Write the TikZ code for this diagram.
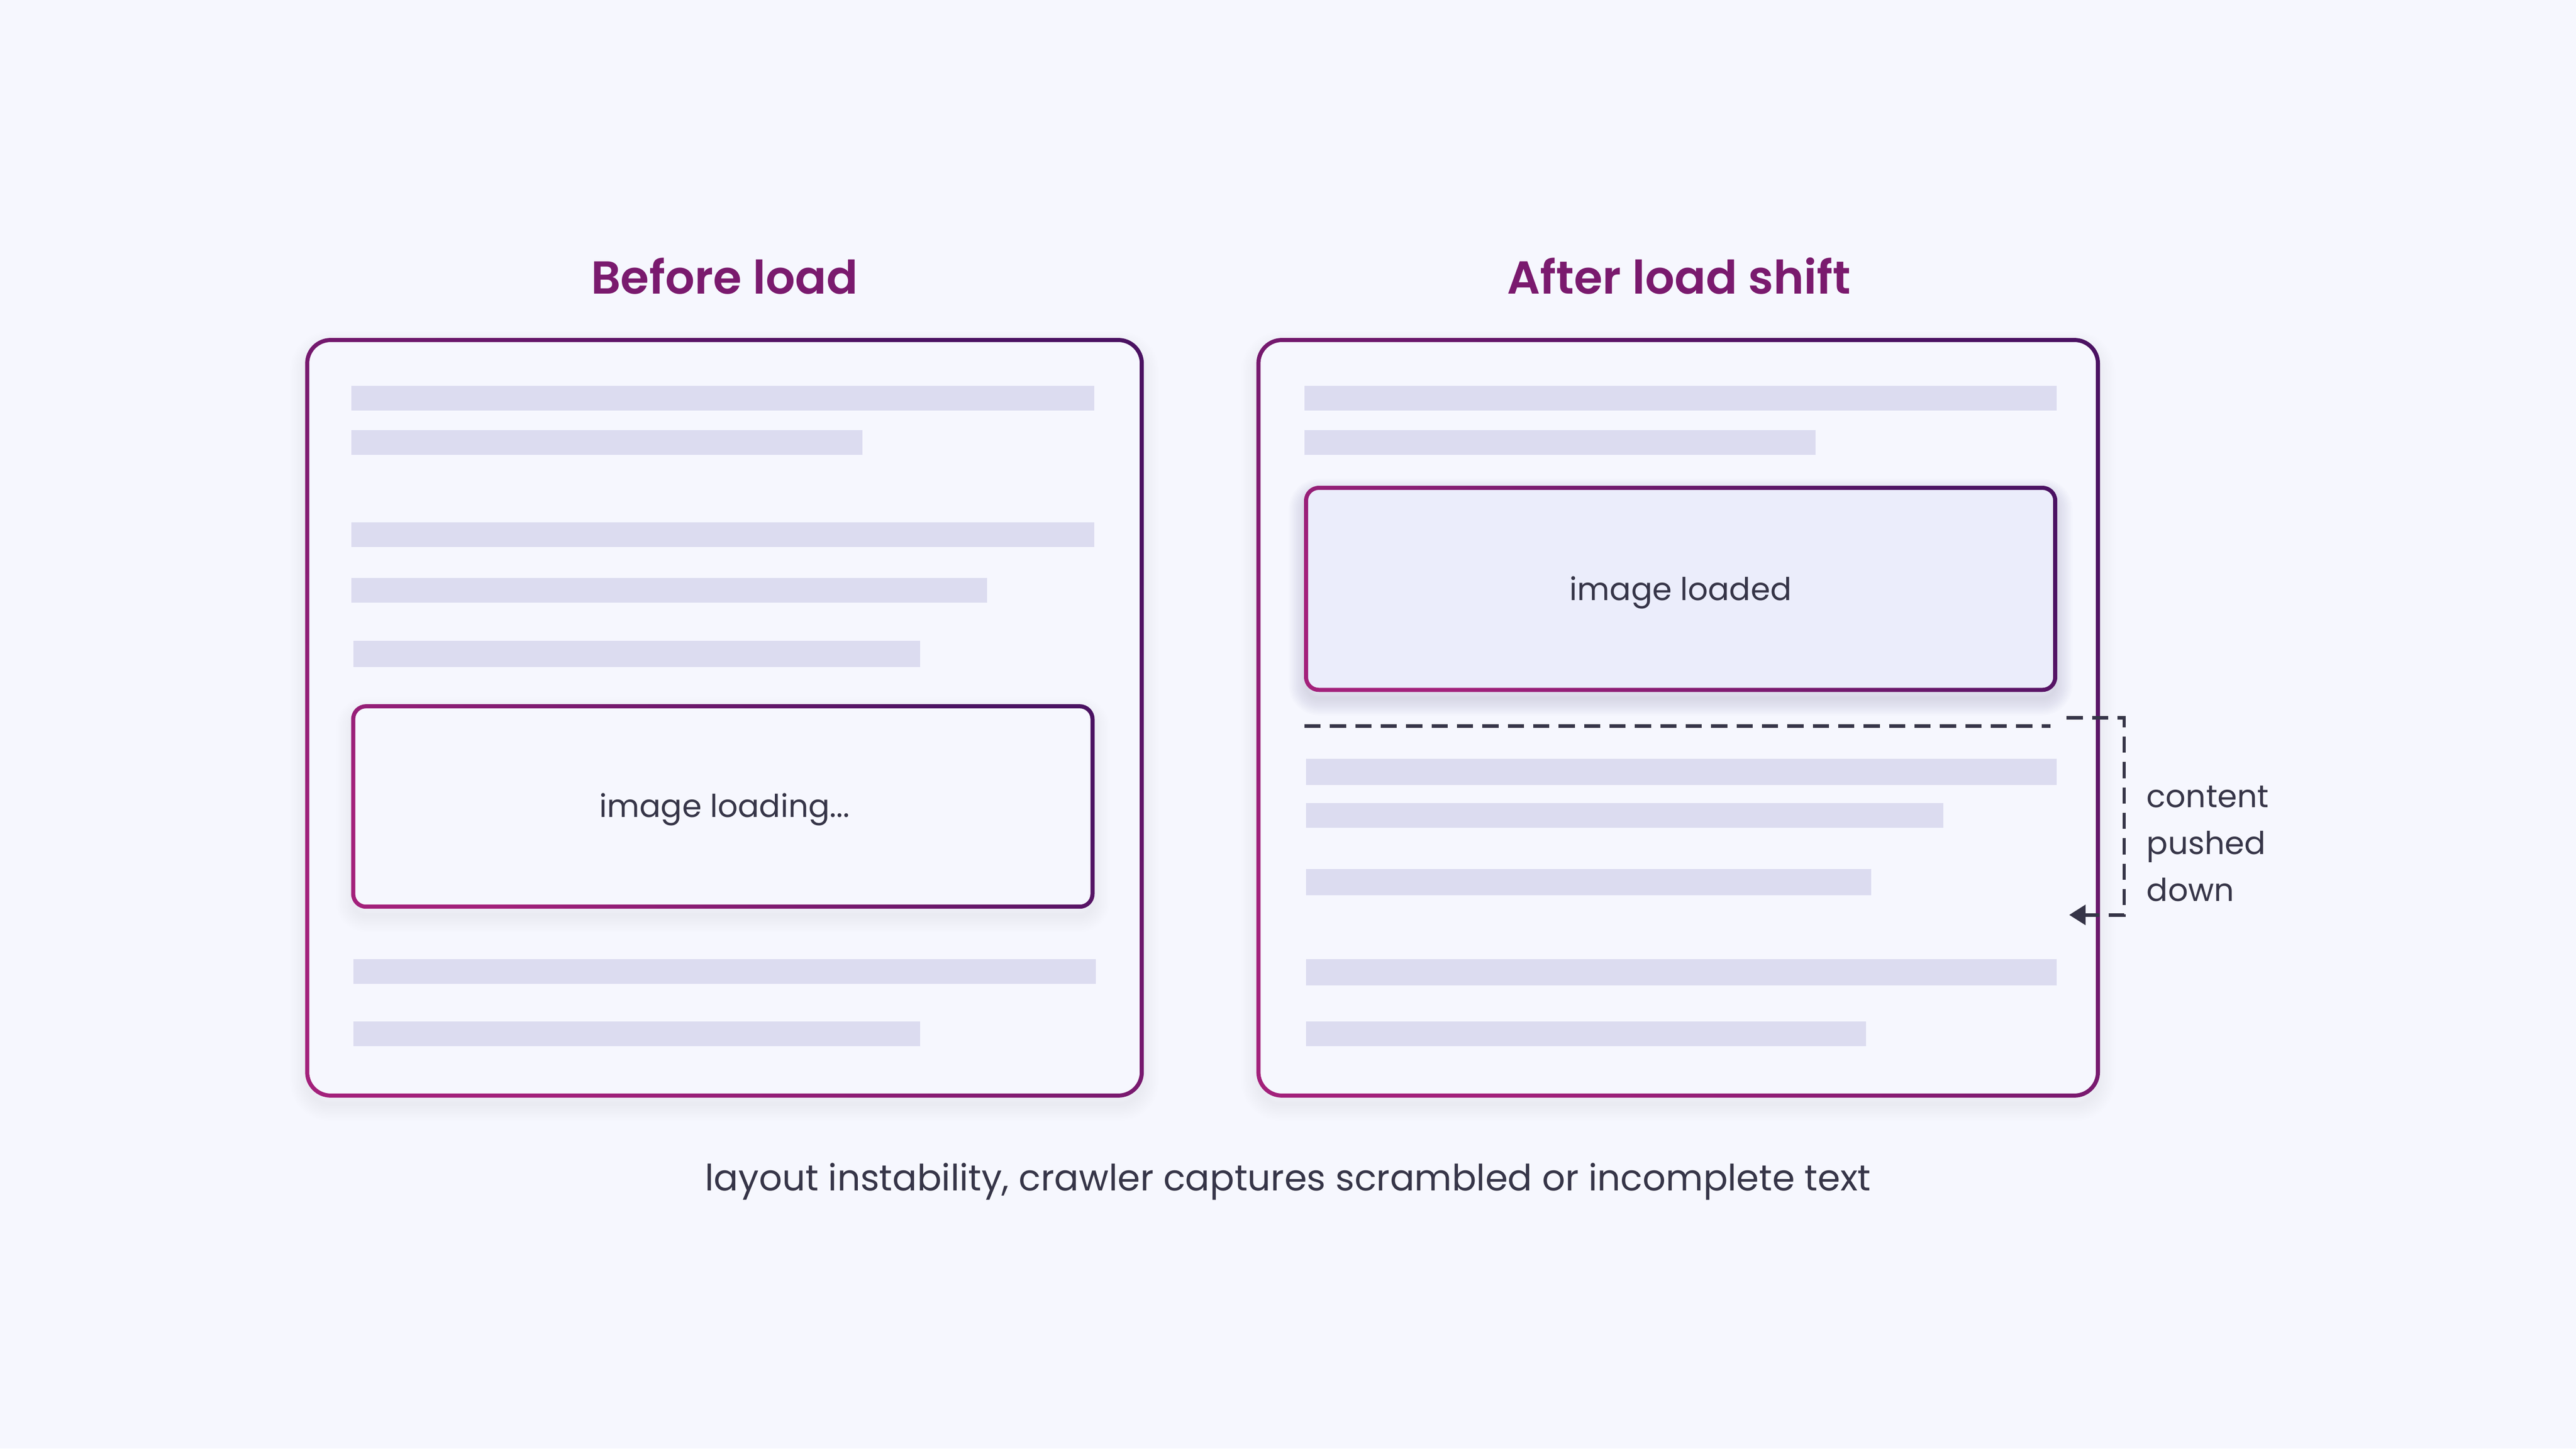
\documentclass[tikz,border=0pt]{standalone}
\usepackage{fontspec}
\setmainfont{Poppins}
\newfontfamily\titlefont{Poppins}[UprightFont=* SemiBold]
\usetikzlibrary{arrows.meta}
\definecolor{bgcol}{HTML}{F6F7FE}
\definecolor{barcol}{HTML}{DCDCF0}
\definecolor{inkcol}{HTML}{363548}
\definecolor{magcol}{HTML}{A3217B}
\definecolor{plumcol}{HTML}{4B1262}
\definecolor{titlecol}{HTML}{7A1A6E}
\definecolor{loadcol}{HTML}{EBEDFB}
\definecolor{shadowcol}{HTML}{3A3A70}
\def\gradbox(#1,#2)(#3,#4)#5#6{\shade[bordergrad, even odd rule] [rounded corners=#5] (#1-1.25,#2-1.25) rectangle (#3+1.25,#4+1.25) [rounded corners=#6] (#1+1.25,#2+1.25) rectangle (#3-1.25,#4-1.25);}
\def\softshadow(#1,#2)(#3,#4)#5#6{\foreach \w in {0.5,1.0,...,6.0} {\draw[shadowcol, opacity=#6, line width=\w pt, rounded corners=#5] (#1,#2+5) rectangle (#3,#4+5);}}
\tikzset{
  bar/.style={fill=barcol},
  bordergrad/.style={bottom color=magcol, top color=plumcol, shading angle=-40},
  titletext/.style={anchor=base, text=titlecol, inner sep=0pt, font=\titlefont\fontsize{8.0}{10}\selectfont},
  labeltext/.style={anchor=base, text=inkcol, inner sep=0pt, font=\fontsize{5.45}{7}\selectfont},
  sidetext/.style={labeltext, anchor=base west},
  captiontext/.style={labeltext, font=\fontsize{6.28}{8}\selectfont},
  shiftline/.style={draw=inkcol, line width=0.6pt, dash pattern=on 2.8pt off 1.6pt},
}
\begin{document}
\begin{tikzpicture}[x=0.01cm, y=-0.01cm]
	%%%%% BACKGROUND %%%%%
	\fill[bgcol] (0,0) rectangle (1568,882);
	
	%%%%% BEFORE LOAD %%%%%
	\node[titletext] (beforetitle) at (441,179) {Before load};
	\softshadow(187,207)(695,667){0.14cm}{0.004}
	\fill[bgcol, rounded corners=0.14cm] (187,207) rectangle (695,667);
	\gradbox(187,207)(695,667){0.155cm}{0.13cm}
	
	\fill[bar] (214,235) rectangle (666,250);
	\fill[bar] (214,262) rectangle (525,277);
	\fill[bar] (214,318) rectangle (666,333);
	\fill[bar] (214,352) rectangle (601,367);
	\fill[bar] (215,390) rectangle (560,406);
	
	\softshadow(215,430)(665,552){0.08cm}{0.005}
	\fill[bgcol, rounded corners=0.08cm] (215,430) rectangle (665,552);
	\gradbox(215,430)(665,552){0.09cm}{0.065cm}
	\node[labeltext] (loadinglbl) at (441,497.5) {image loading...};
	
	\fill[bar] (215,584) rectangle (667,599);
	\fill[bar] (215,622) rectangle (560,637);
	
	%%%%% AFTER LOAD SHIFT %%%%%
	\node[titletext] (aftertitle) at (1022,179) {After load shift};
	\softshadow(766,207)(1277,667){0.14cm}{0.004}
	\fill[bgcol, rounded corners=0.14cm] (766,207) rectangle (1277,667);
	\gradbox(766,207)(1277,667){0.155cm}{0.13cm}
	
	\fill[bar] (794,235) rectangle (1252,250);
	\fill[bar] (794,262) rectangle (1105,277);
	
	\softshadow(795,297)(1251,420){0.08cm}{0.012}
	\fill[loadcol, rounded corners=0.08cm] (795,297) rectangle (1251,420);
	\gradbox(795,297)(1251,420){0.09cm}{0.065cm}
	\node[labeltext] (loadedlbl) at (1023,365.5) {image loaded};
	
	\draw[shiftline] (794,442) -- (1248,442);
	
	\fill[bar] (795,462) rectangle (1252,478);
	\fill[bar] (795,489) rectangle (1183,504);
	\fill[bar] (795,529) rectangle (1139,545);
	\fill[bar] (795,584) rectangle (1252,600);
	\fill[bar] (795,622) rectangle (1136,637);
	
	%%%%% PUSHED DOWN %%%%%
	\coordinate (shifttop) at (1258,437);
	\coordinate (shiftside) at (1293,497);
	\coordinate (shiftend) at (1259.5,557);
	\draw[shiftline, -{Triangle[length=0.1cm, width=0.12cm]}] (shifttop) -| (shiftside) |- (shiftend);
	
	\node[sidetext] (pushA) at (1306,491.5) {content};
	\node[sidetext] (pushB) at (1306,520) {pushed};
	\node[sidetext] (pushC) at (1306,548.5) {down};
	
	%%%%% CAPTION %%%%%
	\node[captiontext] (caption) at (784,725) {layout instability, crawler captures scrambled or incomplete text};
\end{tikzpicture}
\end{document}
